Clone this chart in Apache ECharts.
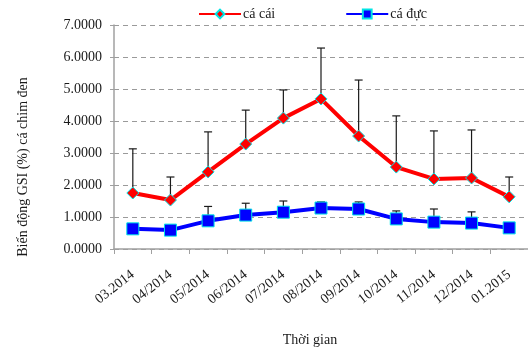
<!DOCTYPE html>
<html>
<head>
<meta charset="utf-8">
<script src="https://cdn.jsdelivr.net/npm/echarts@6/dist/echarts.min.js"></script>
<style>
  html, body { margin: 0; padding: 0; background: #fff; }
  #chart { width: 528px; height: 347px; }
</style>
</head>
<body>
<div id="chart"></div>
<script>
// Months of sampling
const months = ['03.2014', '04/2014', '05/2014', '06/2014', '07/2014', '08/2014',
                '09/2014', '10/2014', '11/2014', '12/2014', '01.2015'];

// Mean GSI (%) for females and males
const femaleGSI = [1.75, 1.53, 2.41, 3.28, 4.09, 4.69, 3.53, 2.56, 2.19, 2.22, 1.63];
const maleGSI   = [0.63, 0.59, 0.88, 1.06, 1.15, 1.28, 1.25, 0.94, 0.84, 0.81, 0.66];

// Standard deviations (upper error bars)
const femaleSD = [1.38, 0.72, 1.25, 1.06, 0.88, 1.59, 1.75, 1.60, 1.50, 1.50, 0.62];
const maleSD   = [0.03, 0.03, 0.45, 0.37, 0.35, 0.19, 0.22, 0.25, 0.41, 0.35, 0.03];

// Y axis ticks
const yTicks = [0, 1, 2, 3, 4, 5, 6, 7];

const serif = '"Liberation Serif", "Times New Roman", serif';

function errorBarData(means, sds) {
  return means.map((m, i) => [i, m, sds[i]]);
}

function renderErrorBar(params, api) {
  const x = api.value(0);
  const mean = api.value(1);
  const sd = api.value(2);
  const base = api.coord([x, mean]);
  const top = api.coord([x, mean + sd]);
  const half = 4;
  const style = { stroke: '#1a1a1a', lineWidth: 1.2 };
  return {
    type: 'group',
    children: [
      { type: 'line', shape: { x1: base[0], y1: base[1], x2: top[0], y2: top[1] }, style },
      { type: 'line', shape: { x1: top[0] - half, y1: top[1], x2: top[0] + half, y2: top[1] }, style }
    ]
  };
}

const chart = echarts.init(document.getElementById('chart'), null, { renderer: 'canvas' });

chart.setOption({
  animation: false,
  backgroundColor: '#fff',
  textStyle: { fontFamily: serif },
  grid: { left: 114, right: 0, top: 25, bottom: 98, containLabel: false, outerBoundsMode: 'none' },
  legend: {
    data: ['cá cái', 'cá đực'],
    left: 165,
    top: 2,
    padding: [5, 44, 4, 33],
    backgroundColor: '#fff',
    itemWidth: 42,
    itemHeight: 11,
    itemGap: 70,
    textStyle: { fontFamily: serif, fontSize: 14, color: '#1a1a1a', padding: [0, 0, 0, -3] },
    z: 10
  },
  xAxis: {
    type: 'category',
    data: months,
    boundaryGap: true,
    name: 'Thời gian',
    nameLocation: 'middle',
    nameGap: 84,
    nameTextStyle: { fontFamily: serif, fontSize: 14, color: '#1a1a1a', padding: [0, 22, 0, 0] },
    axisLine: { lineStyle: { color: '#a0a0a0', width: 1.5 } },
    axisTick: { show: true, length: 5, lineStyle: { color: '#a0a0a0' } },
    axisLabel: {
      rotate: 38,
      margin: 24,
      interval: 0,
      fontFamily: serif,
      fontSize: 14,
      color: '#1a1a1a'
    },
    splitLine: { show: false }
  },
  yAxis: {
    type: 'value',
    min: yTicks[0],
    max: yTicks[yTicks.length - 1],
    interval: 1,
    name: 'Biến động GSI (%) cá chim đen',
    nameLocation: 'middle',
    nameGap: 84,
    nameRotate: 90,
    nameTextStyle: { fontFamily: serif, fontSize: 14, color: '#1a1a1a', padding: [0, 60, 0, 0] },
    axisLine: { show: true, lineStyle: { color: '#a0a0a0', width: 1.5 } },
    axisTick: { show: true, length: 4, lineStyle: { color: '#a0a0a0' } },
    axisLabel: {
      margin: 12,
      fontFamily: serif,
      fontSize: 14,
      color: '#1a1a1a',
      formatter: v => v.toFixed(4)
    },
    splitLine: { show: true, lineStyle: { color: '#9a9a9a', type: [5, 4], width: 1 } }
  },
  series: [
    {
      name: 'errF',
      type: 'custom',
      renderItem: renderErrorBar,
      data: errorBarData(femaleGSI, femaleSD),
      encode: { x: 0, y: 1 },
      z: 1,
      silent: true
    },
    {
      name: 'errM',
      type: 'custom',
      renderItem: renderErrorBar,
      data: errorBarData(maleGSI, maleSD),
      encode: { x: 0, y: 1 },
      z: 1,
      silent: true
    },
    {
      name: 'cá cái',
      type: 'line',
      data: femaleGSI,
      z: 3,
      symbol: 'diamond',
      symbolSize: 12,
      lineStyle: { color: '#ff0000', width: 4 },
      itemStyle: { color: '#ff0000', borderColor: '#00e5e5', borderWidth: 1 }
    },
    {
      name: 'cá đực',
      type: 'line',
      data: maleGSI,
      z: 3,
      symbol: 'rect',
      symbolSize: 12,
      lineStyle: { color: '#0000ff', width: 4 },
      itemStyle: { color: '#0000ff', borderColor: '#00e5e5', borderWidth: 1 }
    }
  ]
});
</script>
</body>
</html>
